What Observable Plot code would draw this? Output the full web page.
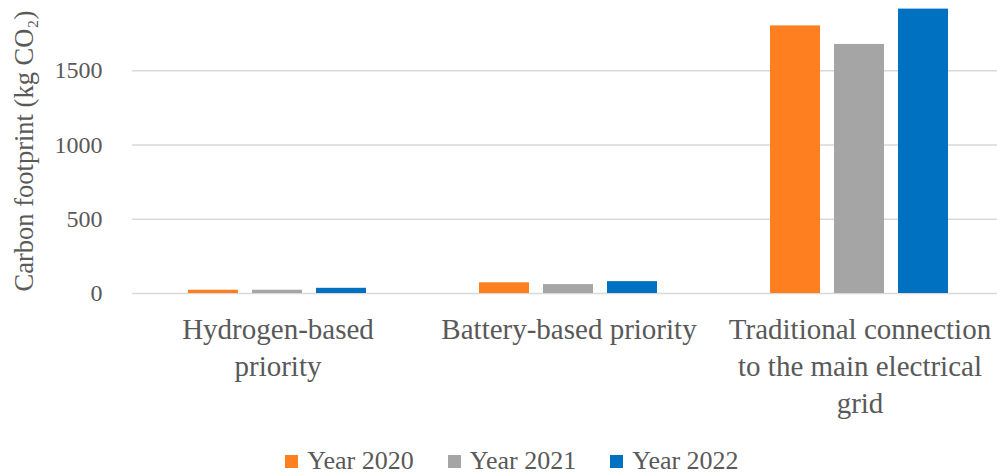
<!DOCTYPE html>
<html>
<head>
<meta charset="utf-8">
<script src="https://cdn.jsdelivr.net/npm/d3@7"></script>
<script src="https://cdn.jsdelivr.net/npm/@observablehq/plot@0.6"></script>
<style>
  html, body { margin: 0; padding: 0; background: #fff; overflow: hidden; width: 997px; height: 475px; }
  #chart { position: absolute; left: 0; top: 0; }
  #legend { position: absolute; left: 0; width: 1024px; top: 446px; display: flex; justify-content: center; gap: 34px;
    font-family: "Liberation Serif", serif; font-size: 26px; color: #595959; }
  #legend .item { display: flex; align-items: center; gap: 9px; }
  #legend .sw { width: 13px; height: 13px; display: inline-block; }
</style>
</head>
<body>
<div id="chart"></div>
<div id="legend"></div>
<script>
const categories = ["Hydrogen-based priority", "Battery-based priority", "Traditional connection to the main electrical grid"];
const categoryLabels = ["Hydrogen-based\npriority", "Battery-based priority", "Traditional connection\nto the main electrical\ngrid"];
const years = ["Year 2020", "Year 2021", "Year 2022"];
const values2020 = [22, 72, 1802];
const values2021 = [22, 60, 1677];
const values2022 = [35, 80, 1915];
const colors = ["#FD7F20", "#A5A5A5", "#0070C0"];
const yTicks = [0, 500, 1000, 1500];
const yLabel = "Carbon footprint (kg CO₂)";

const series = [values2020, values2021, values2022];
const data = [];
categories.forEach((c, i) => years.forEach((y, j) => data.push({category: c, year: y, value: series[j][i]})));
const labelOf = new Map(categories.map((c, i) => [c, categoryLabels[i]]));

const chart = Plot.plot({
  width: 1005,
  height: 425,
  marginTop: 0,
  marginBottom: 132,
  marginLeft: 131,
  marginRight: 0,
  style: {fontFamily: "Liberation Serif, serif", fontSize: "25px", color: "#595959", background: "transparent", maxWidth: "none"},
  fx: {domain: categories, padding: 0},
  x: {domain: years, paddingInner: 0.217, paddingOuter: 0.864},
  y: {domain: [0, 1973]},
  color: {domain: years, range: colors},
  marks: [
    Plot.gridY(yTicks, {stroke: "#d9d9d9", strokeOpacity: 1, strokeWidth: 1.5}),
    Plot.barY(data, {fx: "category", x: "year", y: "value", fill: "year"}),
    Plot.axisY({ticks: yTicks, tickSize: 0, tickPadding: 30, fontSize: 24, fill: "#595959",
      tickFormat: d => String(d),
      label: yLabel, labelAnchor: "center", labelArrow: "none", labelOffset: 118}),
    Plot.axisX({ticks: [], label: null}),
    Plot.axisFx({anchor: "bottom", tickSize: 0, tickPadding: 19, fontSize: 29, fill: "#595959",
      lineHeight: 1.28, tickFormat: d => labelOf.get(d), label: null})
  ]
});
chart.style.maxWidth = "none";
chart.style.width = "1005px";
chart.style.height = "425px";
chart.querySelectorAll("text").forEach(t => {
  if (t.textContent === yLabel) { t.setAttribute("font-size", 26.5); t.setAttribute("dx", -4); }
});
document.getElementById("chart").appendChild(chart);

const legend = document.getElementById("legend");
years.forEach((y, i) => {
  const item = document.createElement("div");
  item.className = "item";
  const sw = document.createElement("span");
  sw.className = "sw";
  sw.style.background = colors[i];
  const t = document.createElement("span");
  t.textContent = y;
  item.appendChild(sw);
  item.appendChild(t);
  legend.appendChild(item);
});
</script>
</body>
</html>
